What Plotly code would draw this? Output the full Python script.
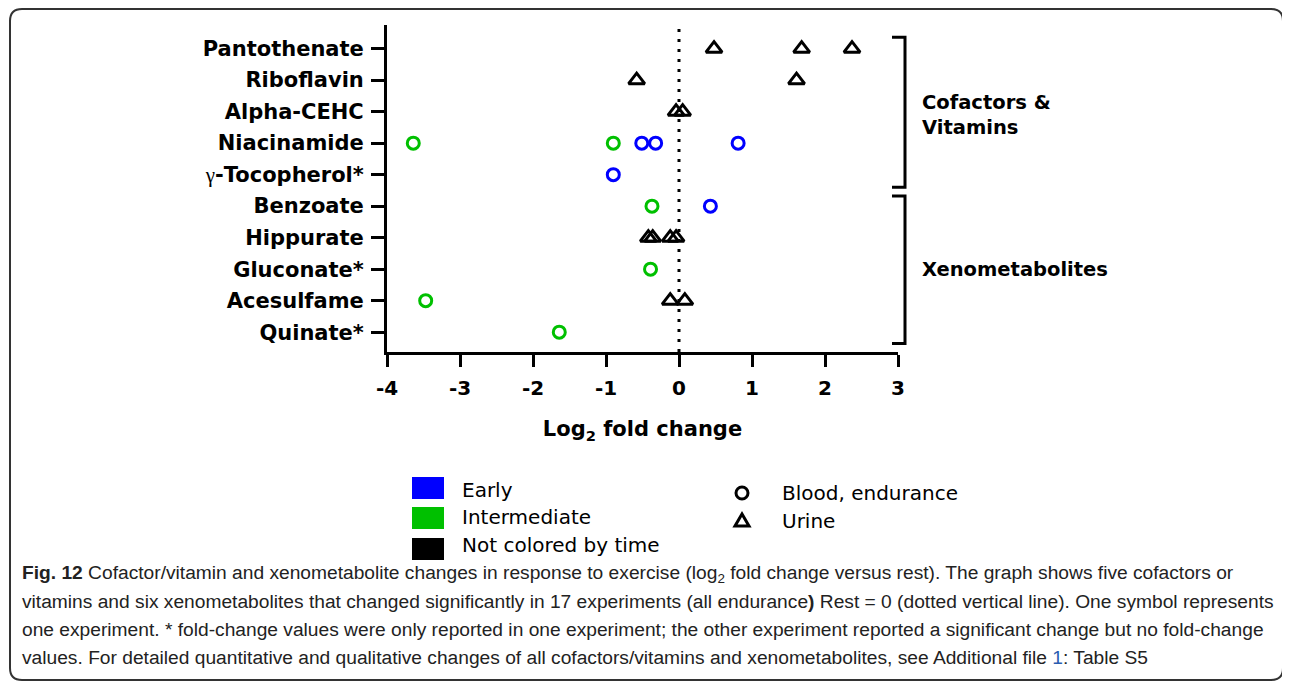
import plotly.graph_objects as go

# ---------------- data ----------------
categories = ["Pantothenate", "Riboflavin", "Alpha-CEHC", "Niacinamide", "γ-Tocopherol*",
              "Benzoate", "Hippurate", "Gluconate*", "Acesulfame", "Quinate*"]
category_labels = ["Pantothenate", "Riboflavin", "Alpha-CEHC", "Niacinamide",
                   "<span style='font-family:Liberation Serif;font-weight:normal'>γ</span>-Tocopherol*",
                   "Benzoate", "Hippurate", "Gluconate*", "Acesulfame", "Quinate*"]

# Blood, endurance - Early (blue circles)
early_cat = ["Niacinamide", "Niacinamide", "Niacinamide", "γ-Tocopherol*", "Benzoate"]
early_val = [-0.51, -0.32, 0.81, -0.90, 0.43]

# Blood, endurance - Intermediate (green circles)
inter_cat = ["Niacinamide", "Niacinamide", "Benzoate", "Gluconate*", "Acesulfame", "Quinate*"]
inter_val = [-3.64, -0.90, -0.37, -0.39, -3.47, -1.64]

# Urine - not colored by time (black triangles)
urine_cat = ["Pantothenate", "Pantothenate", "Pantothenate", "Riboflavin", "Riboflavin",
             "Alpha-CEHC", "Alpha-CEHC", "Hippurate", "Hippurate", "Hippurate", "Hippurate",
             "Acesulfame", "Acesulfame"]
urine_val = [0.48, 1.68, 2.37, -0.58, 1.61,
             -0.04, 0.05, -0.42, -0.36, -0.12, -0.04,
             -0.12, 0.08]

x_ticks = [-4, -3, -2, -1, 0, 1, 2, 3]

caption_lines = [
    "<b>Fig. 12</b> Cofactor/vitamin and xenometabolite changes in response to exercise (log<sub>2</sub> fold change versus rest). The graph shows five cofactors or",
    "vitamins and six xenometabolites that changed significantly in 17 experiments (all endurance<b>)</b> Rest = 0 (dotted vertical line). One symbol represents",
    "one experiment. * fold-change values were only reported in one experiment; the other experiment reported a significant change but no fold-change",
    "values. For detailed quantitative and qualitative changes of all cofactors/vitamins and xenometabolites, see Additional file <span style='color:#2a5db0'>1</span>: Table S5",
]

BLUE = "#0000FF"
GREEN = "#00C000"
BLACK = "#000000"
FONT = "DejaVu Sans"

# the page places the figure 8px from the top-left corner
OFF = 8
W, H = 1290 - OFF, 683 - OFF
ML, MT = 387 - OFF, 25 - OFF
MR = W - (898 - OFF)
MB = H - (352 - OFF)
PW = W - ML - MR
PH = H - MT - MB


def px(xp):
    """page x pixel -> paper fraction"""
    return (xp - OFF - ML) / PW


def py(yp):
    """page y pixel -> paper fraction"""
    return (H - MB - (yp - OFF)) / PH


fig = go.Figure()

fig.add_trace(go.Scatter(
    x=inter_val, y=inter_cat, mode="markers", name="Intermediate",
    marker=dict(symbol="circle-open", size=12, color=GREEN, line=dict(width=3, color=GREEN)),
    cliponaxis=False, showlegend=False))
fig.add_trace(go.Scatter(
    x=early_val, y=early_cat, mode="markers", name="Early",
    marker=dict(symbol="circle-open", size=12, color=BLUE, line=dict(width=3, color=BLUE)),
    cliponaxis=False, showlegend=False))
fig.add_trace(go.Scatter(
    x=urine_val, y=urine_cat, mode="markers", name="Urine",
    marker=dict(symbol="triangle-up-open", size=14, color=BLACK, line=dict(width=3, color=BLACK)),
    cliponaxis=False, showlegend=False))

shapes = []
# dotted zero line
shapes.append(dict(type="line", xref="x", yref="paper", x0=0, x1=0, y0=0, y1=1,
                   line=dict(color="black", width=3, dash="3px,7px"), layer="below"))


def bracket(v0, v1):
    xv = px(905)
    xt = px(892)
    return dict(type="path", xref="paper", yref="y",
                path=f"M {xt} {v0} L {xv} {v0} L {xv} {v1} L {xt} {v1}",
                line=dict(color="black", width=3))


shapes.append(bracket(-0.36, 4.4))
shapes.append(bracket(4.68, 9.36))

# legend swatches
for (y0, y1, c) in [(477, 499, BLUE), (507, 529, GREEN), (538, 560, BLACK)]:
    shapes.append(dict(type="rect", xref="paper", yref="paper",
                       x0=px(412), x1=px(444), y0=py(y1), y1=py(y0),
                       fillcolor=c, line=dict(width=0)))
# legend symbols
shapes.append(dict(type="circle", xref="paper", yref="paper",
                   x0=px(736), x1=px(748), y0=py(499), y1=py(487),
                   line=dict(color="black", width=3)))
tx, ty = 742, 521
shapes.append(dict(type="path", xref="paper", yref="paper",
                   path=f"M {px(tx-7)} {py(ty+5)} L {px(tx+7)} {py(ty+5)} L {px(tx)} {py(ty-7)} Z",
                   line=dict(color="black", width=3)))

# figure border (rounded)
r = 12
L, T, R, B = 10, 9, 1283, 680
border = (f"M {px(L)} {py(B - r)} L {px(L)} {py(T + r)} "
          f"Q {px(L)} {py(T)} {px(L + r)} {py(T)} L {px(R - r)} {py(T)} "
          f"Q {px(R)} {py(T)} {px(R)} {py(T + r)} L {px(R)} {py(B - r)} "
          f"Q {px(R)} {py(B)} {px(R - r)} {py(B)} L {px(L + r)} {py(B)} "
          f"Q {px(L)} {py(B)} {px(L)} {py(B - r)} Z")
shapes.append(dict(type="path", xref="paper", yref="paper", path=border,
                   line=dict(color="#333333", width=2)))

annotations = []
annotations.append(dict(xref="paper", yref="y", x=px(920), y=2.1, text="Cofactors &<br>Vitamins",
                        showarrow=False, xanchor="left", yanchor="middle", align="left",
                        font=dict(family=FONT, size=19.5, color="black", weight="bold")))
annotations.append(dict(xref="paper", yref="y", x=px(920), y=7.0, text="Xenometabolites",
                        showarrow=False, xanchor="left", yanchor="middle", align="left",
                        font=dict(family=FONT, size=19.5, color="black", weight="bold")))

for (t, yy) in [("Early", 490), ("Intermediate", 517), ("Not colored by time", 545)]:
    annotations.append(dict(xref="paper", yref="paper", x=px(460), y=py(yy), text=t,
                            showarrow=False, xanchor="left", yanchor="middle",
                            font=dict(family=FONT, size=20, color="black")))
for (t, yy) in [("Blood, endurance", 493), ("Urine", 521)]:
    annotations.append(dict(xref="paper", yref="paper", x=px(780), y=py(yy), text=t,
                            showarrow=False, xanchor="left", yanchor="middle",
                            font=dict(family=FONT, size=20, color="black")))

for line, yy in zip(caption_lines, [574, 601, 629, 657]):
    annotations.append(dict(xref="paper", yref="paper", x=px(20), y=py(yy), text=line,
                            showarrow=False, xanchor="left", yanchor="middle", align="left",
                            font=dict(family="Liberation Sans", size=19.2, color="#222222")))

fig.update_layout(
    width=W, height=H,
    margin=dict(l=ML, r=MR, t=MT, b=MB, pad=0),
    paper_bgcolor="white", plot_bgcolor="white",
    showlegend=False,
    shapes=shapes, annotations=annotations,
    xaxis=dict(range=[-4, 3], tickmode="array", tickvals=x_ticks, ticktext=[str(v) for v in x_ticks],
               showline=True, linewidth=3, linecolor="black", ticks="outside", ticklen=12,
               tickwidth=3, tickcolor="black", showgrid=False, zeroline=False,
               tickfont=dict(family=FONT, size=20, color="black", weight="bold"),
               ticklabelstandoff=4,
               title=dict(text="Log<sub>2</sub> fold change", standoff=23,
                          font=dict(family=FONT, size=21, color="black", weight="bold"))),
    yaxis=dict(type="category", categoryorder="array", categoryarray=categories,
               range=[9.63, -0.75], tickmode="array", tickvals=categories, ticktext=category_labels,
               showline=True, linewidth=3, linecolor="black", ticks="outside", ticklen=13,
               tickwidth=3, tickcolor="black", showgrid=False, zeroline=False,
               tickfont=dict(family=FONT, size=21, color="black", weight="bold"),
               ticklabelstandoff=3),
)

fig.write_html("out.html")
